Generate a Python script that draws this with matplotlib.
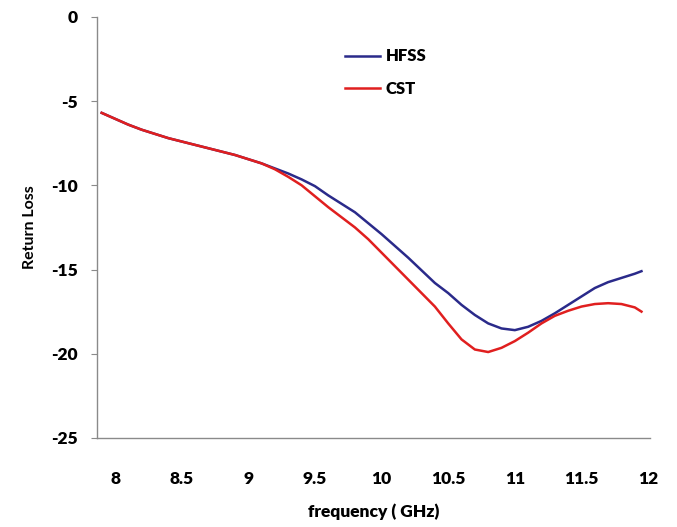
import numpy as np
import matplotlib.pyplot as plt

plt.rcParams['font.family'] = ['Lato', 'DejaVu Sans']
plt.rcParams['axes.unicode_minus'] = False

# frequency sweep (GHz) and simulated return loss (dB)
freq = [7.9, 8.0, 8.1, 8.2, 8.3, 8.4, 8.5, 8.6, 8.7, 8.8, 8.9, 9.0, 9.1,
        9.2, 9.3, 9.4, 9.5, 9.6, 9.7, 9.8, 9.9, 10.0, 10.1, 10.2, 10.3,
        10.4, 10.5, 10.6, 10.7, 10.8, 10.9, 11.0, 11.1, 11.2, 11.3, 11.4,
        11.5, 11.6, 11.7, 11.8, 11.9, 11.95]

hfss = [-5.7, -6.05, -6.4, -6.7, -6.95, -7.2, -7.4, -7.6, -7.8, -8.0, -8.2, -8.45, -8.7,
        -9.0, -9.3, -9.65, -10.05, -10.6, -11.1, -11.6, -12.25, -12.9, -13.6, -14.3, -15.05,
        -15.8, -16.4, -17.1, -17.7, -18.2, -18.5, -18.6, -18.4, -18.05, -17.6, -17.1,
        -16.6, -16.1, -15.75, -15.5, -15.25, -15.1]

cst = [-5.7, -6.05, -6.4, -6.7, -6.95, -7.2, -7.4, -7.6, -7.8, -8.0, -8.2, -8.45, -8.7,
       -9.05, -9.5, -10.0, -10.65, -11.3, -11.9, -12.5, -13.2, -14.0, -14.8, -15.6, -16.4,
       -17.2, -18.2, -19.15, -19.75, -19.9, -19.65, -19.25, -18.75, -18.2, -17.75, -17.45,
       -17.2, -17.05, -17.0, -17.05, -17.25, -17.5]

xticks = [8, 8.5, 9, 9.5, 10, 10.5, 11, 11.5, 12]
yticks = [0, -5, -10, -15, -20, -25]

fig = plt.figure(figsize=(6.77, 5.27), dpi=100)
ax = fig.add_axes([0.1433, 0.169, 0.817, 0.799])

ax.plot(freq, hfss, color='#2a2a8a', lw=1.8, label='HFSS')
ax.plot(freq, cst, color='#e01f1f', lw=1.8, label='CST')

ax.set_xlim(7.865, 12.015)
ax.set_ylim(-25, 0)
ax.set_xticks(xticks)
ax.set_xticklabels(['8', '8.5', '9', '9.5', '10', '10.5', '11', '11.5', '12'])
ax.set_yticks(yticks)

for s in ['top', 'right']:
    ax.spines[s].set_visible(False)
for s in ['left', 'bottom']:
    ax.spines[s].set_color('#8a8a8a')
    ax.spines[s].set_linewidth(1.0)

ax.tick_params(axis='x', length=0, pad=24, labelsize=12.5)
ax.tick_params(axis='y', length=4, color='#8a8a8a', pad=10, labelsize=12.5)
for lab in ax.get_xticklabels() + ax.get_yticklabels():
    lab.set_fontweight('heavy')

ax.set_xlabel('frequency ( GHz)', fontsize=12.5, fontweight='heavy', labelpad=12)
ax.set_ylabel('Return Loss', fontsize=11.5, fontweight='bold', labelpad=10)

leg = ax.legend(loc='upper left', bbox_to_anchor=(0.434, 0.945), frameon=False,
                borderpad=0, handlelength=2.1, handletextpad=0.3, labelspacing=1.0,
                prop={'size': 12, 'weight': 'heavy'})

fig.savefig('out.png', dpi=100)
